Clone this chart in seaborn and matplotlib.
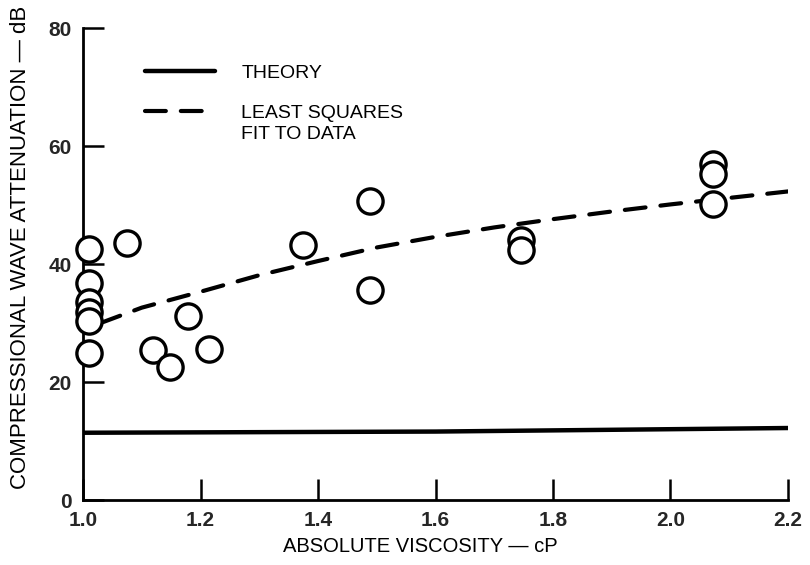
import matplotlib
matplotlib.use("Agg")
import matplotlib.pyplot as plt
import seaborn as sns
import pandas as pd

# Measured attenuation vs. viscosity
visc = [1.01, 1.01, 1.01, 1.01, 1.01, 1.01,
        1.075, 1.119, 1.148, 1.179, 1.214,
        1.374, 1.489, 1.489,
        1.746, 1.746,
        2.072, 2.072, 2.072]
atten = [42.6, 36.8, 33.6, 31.9, 30.4, 25.0,
         43.6, 25.5, 22.6, 31.2, 25.6,
         43.3, 50.6, 35.6,
         44.1, 42.4,
         56.9, 55.2, 50.1]

# Theoretical attenuation
theory_x = [1.0, 1.6, 2.2]
theory_y = [11.4, 11.6, 12.2]

# Least squares fit curve
fit_x = [1.03, 1.10, 1.20, 1.30, 1.40, 1.50, 1.60, 1.70, 1.80, 1.90, 2.00, 2.10, 2.20]
fit_y = [30.0, 32.6, 35.3, 38.1, 40.5, 42.8, 44.6, 46.2, 47.6, 48.9, 50.1, 51.2, 52.3]

x_ticks = [1.0, 1.2, 1.4, 1.6, 1.8, 2.0, 2.2]
x_tick_labels = ["1.0", "1.2", "1.4", "1.6", "1.8", "2.0", "2.2"]
y_ticks = [0, 20, 40, 60, 80]

sns.set_theme(style="white")
plt.rcParams["font.family"] = ["Liberation Sans", "DejaVu Sans"]

W, H = 810, 565
fig = plt.figure(figsize=(W / 100, H / 100), dpi=100)
ax = fig.add_axes([83 / W, 1 - 500 / H, 705 / W, 472 / H])

sns.lineplot(x=theory_x, y=theory_y, ax=ax, color="black", lw=3.2,
             label="THEORY", zorder=3)
sns.lineplot(x=fit_x, y=fit_y, ax=ax, color="black", lw=3.0,
             label="LEAST SQUARES", zorder=3)
fit_line = ax.lines[-1]
fit_line.set_dashes((5.0, 3.6))
fit_line.set_dash_capstyle("round")

pts = pd.DataFrame({"visc": visc, "atten": atten})
sns.scatterplot(data=pts, x="visc", y="atten", ax=ax, marker="o", s=330,
                facecolor="white", edgecolor="black", linewidth=2.4,
                zorder=5, clip_on=False, legend=False)

ax.set_xlim(1.0, 2.2)
ax.set_ylim(0, 80)
ax.set_xticks(x_ticks)
ax.set_xticklabels(x_tick_labels)
ax.set_yticks(y_ticks)
for lab in ax.get_xticklabels() + ax.get_yticklabels():
    lab.set_fontweight("bold")
    lab.set_fontsize(15)
ax.tick_params(axis="both", direction="in", length=15, width=1.8,
               color="black", pad=8, bottom=True, left=True)

for side in ("top", "right"):
    ax.spines[side].set_visible(False)
for side in ("left", "bottom"):
    ax.spines[side].set_color("black")
    ax.spines[side].set_linewidth(2.0)

ax.set_xlabel("ABSOLUTE VISCOSITY \u2014 cP", fontsize=14.5, color="black", va="top")
ax.xaxis.set_label_coords(0.478, -0.078)
ax.set_ylabel("COMPRESSIONAL WAVE ATTENUATION \u2014 dB", fontsize=16,
              color="black", va="center")
ax.yaxis.set_label_coords(-0.089, 0.535)

leg = ax.legend(loc="upper left", bbox_to_anchor=(0.088, 0.923), frameon=False,
                fontsize=14, handlelength=3.6, handletextpad=1.35,
                labelspacing=1.16, borderpad=0, borderaxespad=0)
for t in leg.get_texts():
    t.set_color("black")

# second line of the fit label, set directly under its first line
fig.canvas.draw()
bb = leg.get_texts()[1].get_window_extent(fig.canvas.get_renderer())
fig.text(bb.x0 / W, (bb.y0 - 21) / H, "FIT TO DATA", fontsize=14,
         color="black", ha="left", va="bottom")

fig.savefig("out.png", dpi=100, facecolor="white")
